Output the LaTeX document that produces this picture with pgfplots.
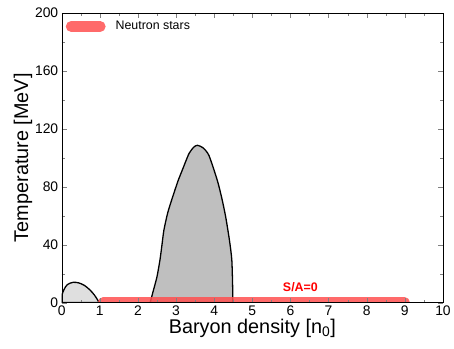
\documentclass[border=0pt]{standalone}
\usepackage{pgfplots}
\pgfplotsset{compat=1.18}
\usepackage{fontspec}
\setmainfont{Liberation Sans}
\definecolor{nsred}{RGB}{255,80,80}
\begin{document}
\begin{tikzpicture}
\begin{axis}[
  scale only axis,
  width=383bp, height=291bp,
  xmin=0, xmax=10, ymin=0, ymax=200,
  xtick={0,1,...,10}, ytick={0,40,...,200},
  minor x tick num=1, minor y tick num=1,
  tick align=inside,
  major tick length=5bp, minor tick length=3bp,
  axis on top,
  /pgf/number format/assume math mode=true,
  ticklabel style={font=\fontsize{14}{15}\selectfont},
  xlabel={Baryon density [n\textsubscript{0}]},
  ylabel={Temperature [MeV]},
  label style={font=\fontsize{20}{22}\selectfont},
  xlabel style={yshift=4bp},
  ylabel style={yshift=-4bp},
  legend style={at={(0.005,0.985)}, anchor=north west, draw=none, fill=none,
    font=\fontsize{12.5}{14}\selectfont, row sep=0pt, inner sep=2pt},
  legend cell align=left,
]
\addplot[black, line width=1.3pt, fill=gray!25, smooth, tension=0.5, forget plot] coordinates {
 (0,0) (0,4.5) (0.06,9) (0.15,12.5) (0.3,14) (0.45,13.6) (0.6,11.8) (0.73,9) (0.85,5.5) (0.95,1.5) (0.98,0)
} -- cycle;
\addplot[black, line width=1.3pt, fill=gray!50, smooth, tension=0.4, forget plot] coordinates {
 (2.32,0) (2.40,8) (2.50,18) (2.58,30) (2.63,40) (2.68,50) (2.78,62) (2.91,73) (3.05,84) (3.17,92) (3.34,103) (3.47,107.5) (3.56,108.6)
 (3.70,107) (3.86,101.7) (4.08,84.5) (4.20,72) (4.30,59.3) (4.40,43) (4.46,30) (4.48,15) (4.49,0)
} -- cycle;
\addplot[nsred, opacity=0.85, line width=11bp, line cap=round,
  legend image code/.code={\draw[nsred, opacity=0.85, line width=11bp, line cap=round] (0bp,0bp) -- (29bp,0bp);}]
  coordinates {(1.09,0) (8.99,0)};
\addlegendentry{\hspace{8bp}Neutron stars}
\node[red, font=\bfseries\fontsize{12.5}{14}\selectfont] at (axis cs:6.26,10.5) {S/A=0};
\end{axis}
\useasboundingbox (-62bp,-46bp) rectangle (392bp,304bp);
\end{tikzpicture}
\end{document}
